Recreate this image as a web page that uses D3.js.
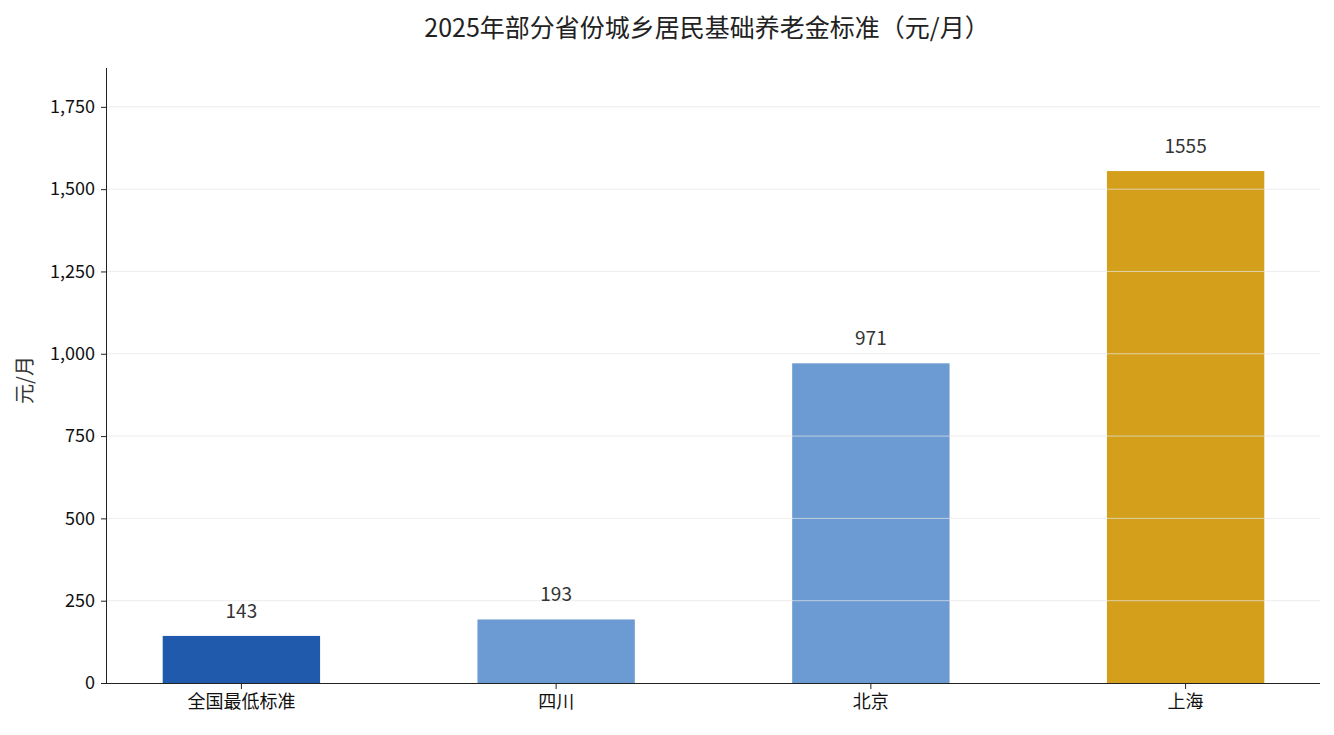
<!DOCTYPE html><html><head><meta charset="utf-8"><script src="https://d3js.org/d3.v7.min.js"></script>
<style>body{margin:0;background:#fff}text{font-family:"Noto Sans CJK SC","Noto Sans",sans-serif}</style></head><body>
<svg id="c" width="1334" height="735"></svg>
<script>
const categories=["全国最低标准","四川","北京","上海"];
const values=[143,193,971,1555];
const colors=["#1f5aad","#6b9bd2","#6b9bd2","#d4a01b"];
const yTicks=[0,250,500,750,1000,1250,1500,1750];
const svg=d3.select("#c");
const L=107,R=1320,T=68,B=683;
const x=d3.scaleBand().domain(categories).range([L,R]).paddingInner(0.5).paddingOuter(0.177);
const y=d3.scaleLinear().domain([0,1868]).range([B,T]);
svg.append("text").attr("x",707).attr("y",37).attr("text-anchor","middle").attr("font-size",25).attr("fill","#222").text("2025年部分省份城乡居民基础养老金标准（元/月）");
svg.selectAll("rect.b").data(values).join("rect").attr("x",(d,i)=>x(categories[i])).attr("y",d=>y(d)).attr("width",x.bandwidth()).attr("height",d=>B-y(d)).attr("fill",(d,i)=>colors[i]);
svg.selectAll("line.g").data(yTicks.slice(1)).join("line").attr("x1",L).attr("x2",R).attr("y1",d=>y(d)).attr("y2",d=>y(d)).attr("stroke","#e6e6e6").attr("stroke-opacity",0.7).attr("stroke-width",1);
svg.selectAll("text.v").data(values).join("text").attr("x",(d,i)=>x(categories[i])+x.bandwidth()/2).attr("y",d=>y(d)-18).attr("text-anchor","middle").attr("font-size",19).attr("fill","#333").text(d=>d);
const ya=svg.append("g").attr("transform",`translate(${L},0)`).call(d3.axisLeft(y).tickValues(yTicks).tickSize(6).tickPadding(6));
ya.select(".domain").attr("d",`M-0.5,${T}V${B}`);
const xa=svg.append("g").attr("transform",`translate(0,${B})`).call(d3.axisBottom(x).tickSize(6).tickPadding(6));
xa.select(".domain").attr("d",`M${L},0.5H${R}`);
svg.selectAll(".tick text").attr("font-size",18).attr("fill","#111").style("font-family","'Noto Sans CJK SC',sans-serif");
svg.selectAll(".domain,.tick line").attr("stroke","#222");
svg.append("text").attr("transform","translate(32,380) rotate(-90)").attr("text-anchor","middle").attr("font-size",20).attr("fill","#333").text("元/月");
</script></body></html>
